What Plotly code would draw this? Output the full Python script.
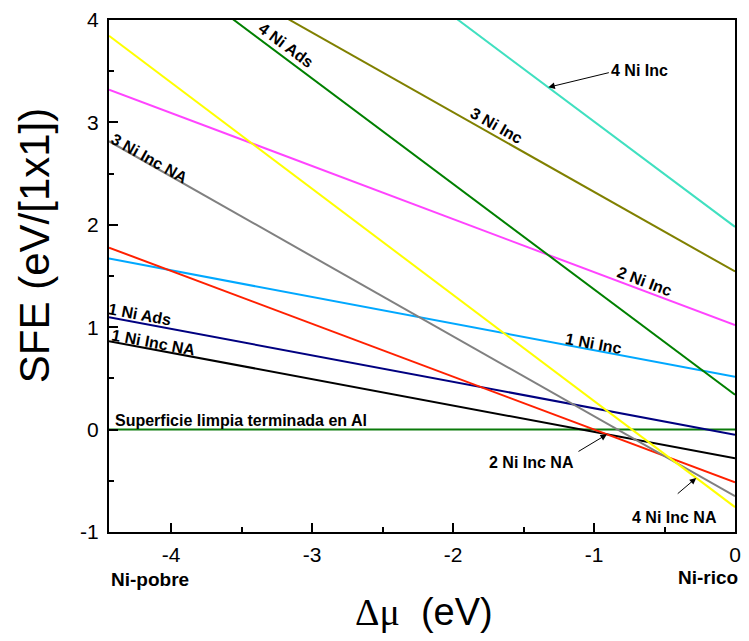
import math
import numpy as np
import plotly.graph_objects as go

# Chemical potential window (Ni-poor -> Ni-rich) and surface free energies at its two ends
dmu = [-4.44, 0.0]
names = ["Superficie limpia terminada en Al", "1 Ni Inc NA", "1 Ni Ads", "1 Ni Inc",
         "2 Ni Inc NA", "2 Ni Inc", "3 Ni Inc NA", "3 Ni Inc",
         "4 Ni Inc NA", "4 Ni Ads", "4 Ni Inc"]
sfe_ni_poor = [0.0, 0.864, 1.097, 1.67, 1.777, 3.32, 2.816, 4.998, 3.845, 4.913, 6.55]
sfe_ni_rich = [0.0, -0.28, -0.05, 0.515, -0.515, 1.02, -0.65, 1.544, -0.757, 0.34, 1.98]
colors = ["#0b7a0b", "#000000", "#000080", "#00a8ff", "#ff2000", "#ff44ff",
          "#808080", "#808000", "#ffff00", "#008000", "#40e0c0"]

# Axis ticks (hyphen minus, as printed)
x_tick_vals = [-4, -3, -2, -1, 0]
x_tick_text = ["-4", "-3", "-2", "-1", "0"]
y_tick_vals = [-1, 0, 1, 2, 3, 4]
y_tick_text = ["-1", "0", "1", "2", "3", "4"]

# Inline labels: (series, x, y) in data units
inline_labels = [
    ("3 Ni Inc NA", -4.153, 2.648),
    ("1 Ni Ads", -4.223, 1.121),
    ("1 Ni Inc NA", -4.125, 0.848),
    ("4 Ni Ads", -3.183, 3.747),
    ("3 Ni Inc", -1.694, 2.969),
    ("2 Ni Inc", -0.640, 1.442),
    ("1 Ni Inc", -1.005, 0.838),
]
# Labels with arrows: (series, text x, text y, arrow-head x, arrow dx, arrow dy in px)
arrow_labels = [
    ("4 Ni Inc", -0.675, 3.504, -1.324, 62, -15),
    ("2 Ni Inc NA", -1.441, -0.319, -0.908, -30, 18),
    ("4 Ni Inc NA", -0.429, -0.854, -0.275, -20, 17),
]

W, H = 749, 641
M = dict(l=109, r=8, t=18, b=109)
xr, yr = [-4.44, 0.0], [-1.0, 4.0]
px_x = (W - M["l"] - M["r"]) / (xr[1] - xr[0])
px_y = (H - M["t"] - M["b"]) / (yr[1] - yr[0])

FONT = "Liberation Sans, Arial, sans-serif"

fig = go.Figure()
for n, a, b, c in zip(names, sfe_ni_poor, sfe_ni_rich, colors):
    fig.add_trace(go.Scatter(x=dmu, y=[a, b], mode="lines", name=n,
                             line=dict(color=c, width=2), hoverinfo="name"))

series = {n: (a, b) for n, a, b in zip(names, sfe_ni_poor, sfe_ni_rich)}


def angle_of(n):
    a, b = series[n]
    slope = (b - a) / (dmu[1] - dmu[0])
    return math.degrees(math.atan(-slope * px_y / px_x))


def y_on(n, x):
    a, b = series[n]
    return float(np.interp(x, dmu, [a, b]))


lab_font = dict(family=FONT, size=16, color="black")
ann = []
for n, x, y in inline_labels:
    ann.append(dict(x=x, y=y, text="<b>%s</b>" % n, showarrow=False,
                    textangle=angle_of(n), font=lab_font))

ann.append(dict(x=-4.413, y=0.089, text="<b>%s</b>" % names[0], showarrow=False,
                xanchor="left", font=lab_font))

for n, tx, ty, hx, dx, dy in arrow_labels:
    ann.append(dict(x=tx, y=ty, text="<b>%s</b>" % n, showarrow=False, font=lab_font))
    ann.append(dict(x=hx, y=y_on(n, hx), text="", showarrow=True, ax=dx, ay=dy,
                    arrowhead=2, arrowsize=1.3, arrowwidth=1, arrowcolor="black"))

paper = dict(xref="paper", yref="paper", showarrow=False,
             xanchor="center", yanchor="middle")
ann += [
    dict(x=0.066, y=-0.093, text="<b>Ni-pobre</b>",
         font=dict(family=FONT, size=19, color="black"), **paper),
    dict(x=0.957, y=-0.089, text="<b>Ni-rico</b>",
         font=dict(family=FONT, size=19, color="black"), **paper),
    dict(x=-0.120, y=0.560, text="SFE (eV/[1x1])", textangle=-90,
         font=dict(family=FONT, size=42, color="black"), **paper),
    dict(x=0.503, y=-0.156,
         text='<span style="font-family:Liberation Serif, Times New Roman, serif">Δμ</span>  (eV)',
         font=dict(family=FONT, size=38, color="black"), **paper),
]

axis_common = dict(showgrid=False, zeroline=False, showline=True, linecolor="black",
                   linewidth=2, mirror=True, ticks="inside", tickcolor="black",
                   tickwidth=1.5, ticklen=9,
                   tickfont=dict(family=FONT, size=21, color="black"))
minor = dict(dtick=0.5, ticks="inside", ticklen=5, tickcolor="black", tickwidth=1.5)

fig.update_layout(
    width=W, height=H, margin=M,
    paper_bgcolor="white", plot_bgcolor="white",
    showlegend=False,
    xaxis=dict(range=xr, tickmode="array", tickvals=x_tick_vals, ticktext=x_tick_text,
               minor=minor, ticklabelstandoff=3, **axis_common),
    yaxis=dict(range=yr, tickmode="array", tickvals=y_tick_vals, ticktext=y_tick_text,
               minor=minor, ticklabelstandoff=4, **axis_common),
    annotations=ann,
)

fig.write_html("out.html")
